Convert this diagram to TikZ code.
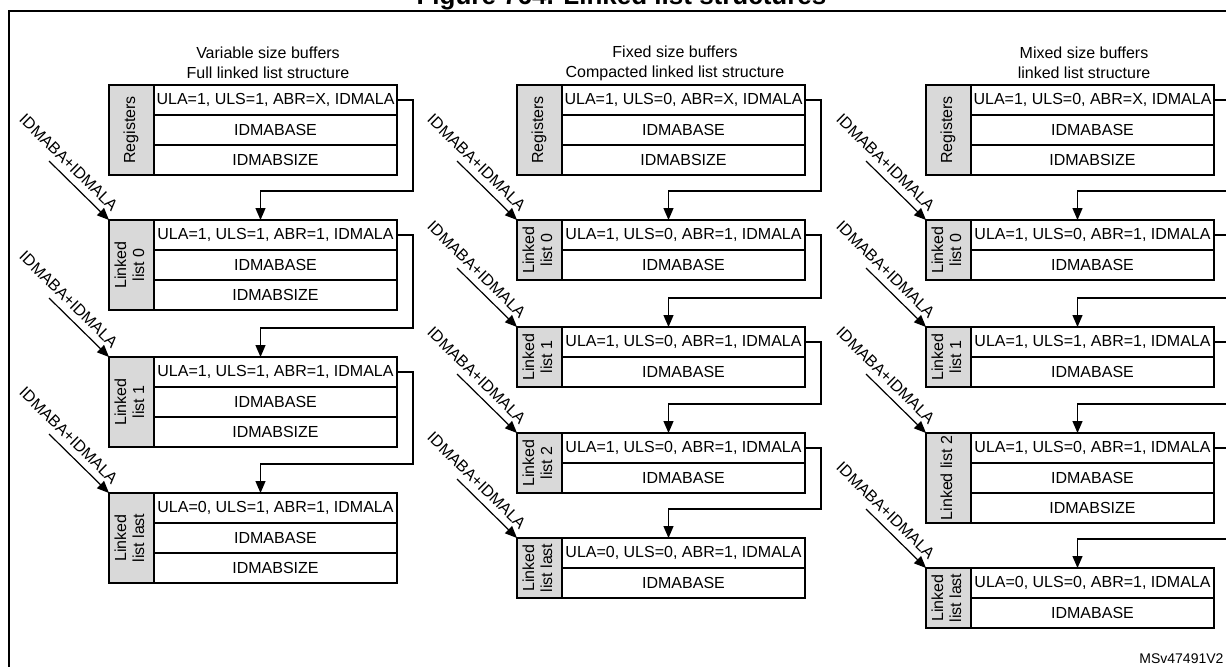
\documentclass[tikz,border=0pt]{standalone}
\usepackage{fontspec}
\setmainfont{Liberation Sans}
\usepackage{graphicx}
\usetikzlibrary{arrows.meta, positioning}

\newcommand{\vlab}[1]{\rotatebox{90}{\begin{tabular}{@{}c@{}}#1\end{tabular}}}

\begin{document}
\begin{tikzpicture}[
        x=0.5pt, y=-0.5pt,
        font=\fontsize{8}{9}\selectfont,
        fld/.style={rectangle, draw, line width=0.6pt, minimum width=121.5pt, minimum height=15pt, inner sep=1pt, outer sep=0pt},
        lbl/.style={rectangle, draw, line width=0.6pt, fill=gray!30, minimum width=22.5pt, inner sep=0pt, outer sep=0pt, anchor=north west},
        hdr/.style={align=center, font=\fontsize{8}{10}\selectfont},
        conn/.style={line width=0.6pt, -{Triangle[length=6pt, width=5pt]}}
    ]
    \useasboundingbox (0,0) rectangle (1226,666);

    % Frame and title
    \draw[line width=1pt] (9,11) rectangle (1240,680);
    \node[anchor=base, font=\bfseries\fontsize{13}{15}\selectfont] (title) at (621.5,4) {Figure 764. Linked list structures};
    \node[anchor=base west, inner sep=0pt, font=\fontsize{7}{8}\selectfont] (tag) at (1139,663) {MSv47491V2};

    % Variable size buffers
    \node[hdr] (VH) at (268,63) {Variable size buffers\\Full linked list structure};

    \node[lbl, minimum height=45pt] (VR) at (109,85) {\vlab{Registers}};
    \node[fld, anchor=north west] (VR1) at (VR.north east) {ULA=1, ULS=1, ABR=X, IDMALA};
    \node[fld, below=0pt of VR1] (VR2) {IDMABASE};
    \node[fld, below=0pt of VR2] (VR3) {IDMABSIZE};

    \node[lbl, minimum height=45pt] (V0) at (109,220) {\vlab{Linked\\list 0}};
    \node[fld, anchor=north west] (V01) at (V0.north east) {ULA=1, ULS=1, ABR=1, IDMALA};
    \node[fld, below=0pt of V01] (V02) {IDMABASE};
    \node[fld, below=0pt of V02] (V03) {IDMABSIZE};

    \node[lbl, minimum height=45pt] (V1) at (109,357) {\vlab{Linked\\list 1}};
    \node[fld, anchor=north west] (V11) at (V1.north east) {ULA=1, ULS=1, ABR=1, IDMALA};
    \node[fld, below=0pt of V11] (V12) {IDMABASE};
    \node[fld, below=0pt of V12] (V13) {IDMABSIZE};

    \node[lbl, minimum height=45pt] (VL) at (109,493) {\vlab{Linked\\list last}};
    \node[fld, anchor=north west] (VL1) at (VL.north east) {ULA=0, ULS=1, ABR=1, IDMALA};
    \node[fld, below=0pt of VL1] (VL2) {IDMABASE};
    \node[fld, below=0pt of VL2] (VL3) {IDMABSIZE};

    \draw[conn] (VR1.east) -- ++(16,0) |- ([xshift=-7.5pt, yshift=14.5pt]V01.north) -- ([xshift=-7.5pt]V01.north);
    \draw[conn] (V01.east) -- ++(16,0) |- ([xshift=-7.5pt, yshift=14.5pt]V11.north) -- ([xshift=-7.5pt]V11.north);
    \draw[conn] (V11.east) -- ++(16,0) |- ([xshift=-7.5pt, yshift=14.5pt]VL1.north) -- ([xshift=-7.5pt]VL1.north);

    \draw[conn] ([shift={(-60,-59)}]V0.north west) -- node[sloped, above, pos=0.18] {IDMABA+IDMALA} (V0.north west);
    \draw[conn] ([shift={(-60,-59)}]V1.north west) -- node[sloped, above, pos=0.18] {IDMABA+IDMALA} (V1.north west);
    \draw[conn] ([shift={(-60,-59)}]VL.north west) -- node[sloped, above, pos=0.18] {IDMABA+IDMALA} (VL.north west);

    % Fixed size buffers
    \node[hdr] (FH) at (675,63) {Fixed size buffers\\Compacted linked list structure};

    \node[lbl, minimum height=45pt] (FR) at (517,85) {\vlab{Registers}};
    \node[fld, anchor=north west] (FR1) at (FR.north east) {ULA=1, ULS=0, ABR=X, IDMALA};
    \node[fld, below=0pt of FR1] (FR2) {IDMABASE};
    \node[fld, below=0pt of FR2] (FR3) {IDMABSIZE};

    \node[lbl, minimum height=30pt] (F0) at (517,220) {\vlab{Linked\\list 0}};
    \node[fld, anchor=north west] (F01) at (F0.north east) {ULA=1, ULS=0, ABR=1, IDMALA};
    \node[fld, below=0pt of F01] (F02) {IDMABASE};

    \node[lbl, minimum height=30pt] (F1) at (517,327) {\vlab{Linked\\list 1}};
    \node[fld, anchor=north west] (F11) at (F1.north east) {ULA=1, ULS=0, ABR=1, IDMALA};
    \node[fld, below=0pt of F11] (F12) {IDMABASE};

    \node[lbl, minimum height=30pt] (F2) at (517,433) {\vlab{Linked\\list 2}};
    \node[fld, anchor=north west] (F21) at (F2.north east) {ULA=1, ULS=0, ABR=1, IDMALA};
    \node[fld, below=0pt of F21] (F22) {IDMABASE};

    \node[lbl, minimum height=30pt] (FL) at (517,538) {\vlab{Linked\\list last}};
    \node[fld, anchor=north west] (FL1) at (FL.north east) {ULA=0, ULS=0, ABR=1, IDMALA};
    \node[fld, below=0pt of FL1] (FL2) {IDMABASE};

    \draw[conn] (FR1.east) -- ++(16,0) |- ([xshift=-7.5pt, yshift=14.5pt]F01.north) -- ([xshift=-7.5pt]F01.north);
    \draw[conn] (F01.east) -- ++(16,0) |- ([xshift=-7.5pt, yshift=14.5pt]F11.north) -- ([xshift=-7.5pt]F11.north);
    \draw[conn] (F11.east) -- ++(16,0) |- ([xshift=-7.5pt, yshift=14.5pt]F21.north) -- ([xshift=-7.5pt]F21.north);
    \draw[conn] (F21.east) -- ++(16,0) |- ([xshift=-7.5pt, yshift=14.5pt]FL1.north) -- ([xshift=-7.5pt]FL1.north);

    \draw[conn] ([shift={(-60,-59)}]F0.north west) -- node[sloped, above, pos=0.18] {IDMABA+IDMALA} (F0.north west);
    \draw[conn] ([shift={(-60,-59)}]F1.north west) -- node[sloped, above, pos=0.18] {IDMABA+IDMALA} (F1.north west);
    \draw[conn] ([shift={(-60,-59)}]F2.north west) -- node[sloped, above, pos=0.18] {IDMABA+IDMALA} (F2.north west);
    \draw[conn] ([shift={(-60,-59)}]FL.north west) -- node[sloped, above, pos=0.18] {IDMABA+IDMALA} (FL.north west);

    % Mixed size buffers
    \node[hdr] (MH) at (1084,63) {Mixed size buffers\\linked list structure};

    \node[lbl, minimum height=45pt] (MR) at (926,85) {\vlab{Registers}};
    \node[fld, anchor=north west] (MR1) at (MR.north east) {ULA=1, ULS=0, ABR=X, IDMALA};
    \node[fld, below=0pt of MR1] (MR2) {IDMABASE};
    \node[fld, below=0pt of MR2] (MR3) {IDMABSIZE};

    \node[lbl, minimum height=30pt] (M0) at (926,220) {\vlab{Linked\\list 0}};
    \node[fld, anchor=north west] (M01) at (M0.north east) {ULA=1, ULS=0, ABR=1, IDMALA};
    \node[fld, below=0pt of M01] (M02) {IDMABASE};

    \node[lbl, minimum height=30pt] (M1) at (926,327) {\vlab{Linked\\list 1}};
    \node[fld, anchor=north west] (M11) at (M1.north east) {ULA=1, ULS=1, ABR=1, IDMALA};
    \node[fld, below=0pt of M11] (M12) {IDMABASE};

    \node[lbl, minimum height=45pt] (M2) at (926,433) {\vlab{Linked list 2}};
    \node[fld, anchor=north west] (M21) at (M2.north east) {ULA=1, ULS=0, ABR=1, IDMALA};
    \node[fld, below=0pt of M21] (M22) {IDMABASE};
    \node[fld, below=0pt of M22] (M23) {IDMABSIZE};

    \node[lbl, minimum height=30pt] (ML) at (926,568) {\vlab{Linked\\list last}};
    \node[fld, anchor=north west] (ML1) at (ML.north east) {ULA=0, ULS=0, ABR=1, IDMALA};
    \node[fld, below=0pt of ML1] (ML2) {IDMABASE};

    \draw[conn] (MR1.east) -- ++(16,0) |- ([xshift=-7.5pt, yshift=14.5pt]M01.north) -- ([xshift=-7.5pt]M01.north);
    \draw[conn] (M01.east) -- ++(16,0) |- ([xshift=-7.5pt, yshift=14.5pt]M11.north) -- ([xshift=-7.5pt]M11.north);
    \draw[conn] (M11.east) -- ++(16,0) |- ([xshift=-7.5pt, yshift=14.5pt]M21.north) -- ([xshift=-7.5pt]M21.north);
    \draw[conn] (M21.east) -- ++(16,0) |- ([xshift=-7.5pt, yshift=14.5pt]ML1.north) -- ([xshift=-7.5pt]ML1.north);

    \draw[conn] ([shift={(-60,-59)}]M0.north west) -- node[sloped, above, pos=0.18] {IDMABA+IDMALA} (M0.north west);
    \draw[conn] ([shift={(-60,-59)}]M1.north west) -- node[sloped, above, pos=0.18] {IDMABA+IDMALA} (M1.north west);
    \draw[conn] ([shift={(-60,-59)}]M2.north west) -- node[sloped, above, pos=0.18] {IDMABA+IDMALA} (M2.north west);
    \draw[conn] ([shift={(-60,-59)}]ML.north west) -- node[sloped, above, pos=0.18] {IDMABA+IDMALA} (ML.north west);

\end{tikzpicture}
\end{document}
